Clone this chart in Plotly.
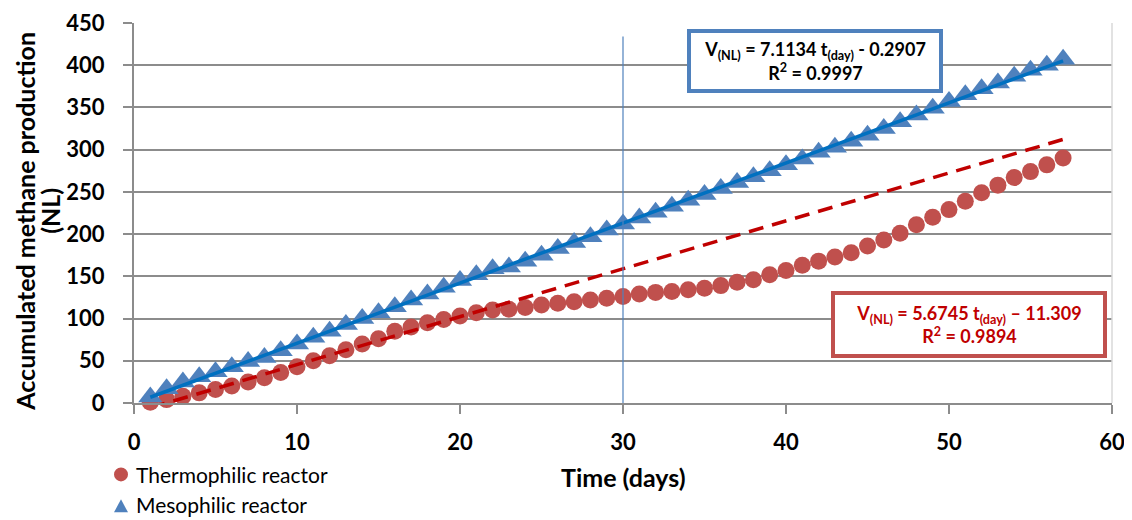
import plotly.graph_objects as go

# ---------------- data ----------------
days = list(range(1, 58))

thermophilic = [1, 4, 8, 12, 16, 20, 25, 30, 36, 43,
                50, 56, 63, 70, 76, 85, 90, 95, 99, 103,
                107, 110, 111, 113, 116, 118, 120, 122, 124, 126,
                129, 131, 132, 134, 136, 139, 143, 146, 152, 157,
                163, 168, 173, 178, 186, 193, 201, 211, 220, 229,
                239, 249, 258, 267, 274, 282, 290]

mesophilic = [7, 17, 25, 31, 37, 43, 49, 54, 62, 70,
              78, 85, 93, 100, 107, 114, 122, 129, 137, 145,
              152, 159, 161, 168, 175, 183, 190, 197, 205, 212,
              219, 226, 233, 240, 247, 254, 261, 268, 275, 282,
              289, 297, 303, 310, 317, 325, 333, 341, 349, 357,
              365, 372, 379, 387, 394, 400, 407]

series_names = ["Thermophilic reactor", "Mesophilic reactor"]

# trend-line coefficients (from the chart's equations)
meso_slope, meso_icpt = 7.1134, -0.2907
thermo_slope, thermo_icpt = 5.6745, -11.309
trend_x = [1, 57]

marker_day = 30
marker_top = 434

x_ticks = [0, 10, 20, 30, 40, 50, 60]
y_ticks = [0, 50, 100, 150, 200, 250, 300, 350, 400, 450]

FONT = "Lato"
RED = "#C0504D"
BLUE = "#4F81BD"
GRID = "#8C8C8C"

# page is rendered with an 8px body margin; plot area spans page x 134..1112, y 23..403.5
PW, PH = 978.0, 380.5
def px(x):
    return (x - 134) / PW
def py(y):
    return (403.5 - y) / PH

fig = go.Figure()

fig.add_trace(go.Scatter(
    x=days, y=thermophilic, mode="markers", name=series_names[0],
    marker=dict(symbol="circle", size=17, color=RED),
    cliponaxis=False, showlegend=False))

fig.add_trace(go.Scatter(
    x=days, y=mesophilic, mode="markers", name=series_names[1],
    marker=dict(symbol="triangle-up", size=21, color=BLUE),
    cliponaxis=False, showlegend=False))

fig.add_trace(go.Scatter(
    x=trend_x, y=[thermo_slope * t + thermo_icpt for t in trend_x],
    mode="lines", line=dict(color="#C00000", width=3.5, dash="15px,9px"),
    showlegend=False, hoverinfo="skip"))

fig.add_trace(go.Scatter(
    x=trend_x, y=[meso_slope * t + meso_icpt for t in trend_x],
    mode="lines", line=dict(color="#0070C0", width=3.5),
    showlegend=False, hoverinfo="skip"))

fig.add_trace(go.Scatter(
    x=[marker_day, marker_day], y=[0, marker_top],
    mode="lines", line=dict(color=BLUE, width=1.2),
    showlegend=False, hoverinfo="skip"))

tickfont = dict(family=FONT, size=22, color="black", weight="bold")

fig.update_layout(
    width=1124, height=512,
    margin=dict(l=126, r=20, t=15, b=116.5, pad=0),
    paper_bgcolor="white", plot_bgcolor="white",
    font=dict(family=FONT, color="black"),
    xaxis=dict(
        range=[0, 60], tickvals=x_ticks, showgrid=False, zeroline=False,
        showline=True, linecolor=GRID, linewidth=2, automargin=False,
        ticks="outside", ticklen=9, tickcolor=GRID, tickwidth=2,
        ticklabelstandoff=10, tickfont=tickfont,
    ),
    yaxis=dict(
        range=[0, 450], tickvals=y_ticks, showgrid=True, gridcolor=GRID, gridwidth=2,
        zeroline=False, showline=True, linecolor=GRID, linewidth=2, automargin=False,
        ticks="outside", ticklen=9, tickcolor=GRID, tickwidth=2,
        ticklabelstandoff=14, tickfont=tickfont,
    ),
    showlegend=False,
)

fig.add_shape(type="line", xref="paper", yref="paper", x0=1, x1=1, y0=0, y1=1,
              line=dict(color="#D9D9D9", width=1.5))

# legend (symbols as pixel-sized shapes, labels as text)
fig.add_shape(type="circle", xref="paper", yref="paper",
              xsizemode="pixel", ysizemode="pixel",
              xanchor=px(121), yanchor=py(475), x0=-7, x1=7, y0=-7, y1=7,
              fillcolor=RED, line=dict(width=0))
fig.add_shape(type="path", xref="paper", yref="paper",
              xsizemode="pixel", ysizemode="pixel",
              xanchor=px(121), yanchor=py(507),
              path="M -7,-6 L 7,-6 L 0,7 Z",
              fillcolor=BLUE, line=dict(width=0))
fig.add_annotation(xref="paper", yref="paper", x=px(135), y=py(475),
                   xanchor="left", yanchor="middle", showarrow=False, borderpad=0,
                   text=series_names[0], font=dict(family=FONT, size=21, color="black"))
fig.add_annotation(xref="paper", yref="paper", x=px(135), y=py(505),
                   xanchor="left", yanchor="middle", showarrow=False, borderpad=0,
                   text=series_names[1], font=dict(family=FONT, size=21, color="black"))

# axis titles
fig.add_annotation(
    xref="paper", yref="paper", x=px(623), y=py(478), xanchor="center", yanchor="middle",
    showarrow=False, text="<b>Time (days)</b>",
    font=dict(family=FONT, size=25, color="black"))
fig.add_annotation(
    xref="paper", yref="paper", x=px(25), y=py(222), xanchor="center", yanchor="middle",
    showarrow=False, textangle=-90, text="<b>Accumulated methane production</b>",
    font=dict(family=FONT, size=25, color="black"))
fig.add_annotation(
    xref="paper", yref="paper", x=px(50), y=py(211), xanchor="center", yanchor="middle",
    showarrow=False, textangle=-90, text="<b>(NL)</b>",
    font=dict(family=FONT, size=25, color="black"))

# trend-line equation boxes
fig.add_annotation(
    xref="paper", yref="paper", x=px(815), y=py(61), showarrow=False,
    xanchor="center", yanchor="middle",
    text="<b>V<sub>(NL)</sub> = 7.1134 t<sub>(day)</sub> - 0.2907<br>R<sup>2</sup> = 0.9997</b>",
    font=dict(family=FONT, size=18, color="black"),
    bgcolor="white", bordercolor=BLUE, borderwidth=4, borderpad=3,
    width=242, height=50, align="center")

fig.add_annotation(
    xref="paper", yref="paper", x=px(969), y=py(324.5), showarrow=False,
    xanchor="center", yanchor="middle",
    text="<b>V<sub>(NL)</sub> = 5.6745 t<sub>(day)</sub> – 11.309<br>R<sup>2</sup> = 0.9894</b>",
    font=dict(family=FONT, size=18, color="#C00000"),
    bgcolor="white", bordercolor=RED, borderwidth=4, borderpad=3,
    width=262, height=53, align="center")

fig.write_html("out.html")
